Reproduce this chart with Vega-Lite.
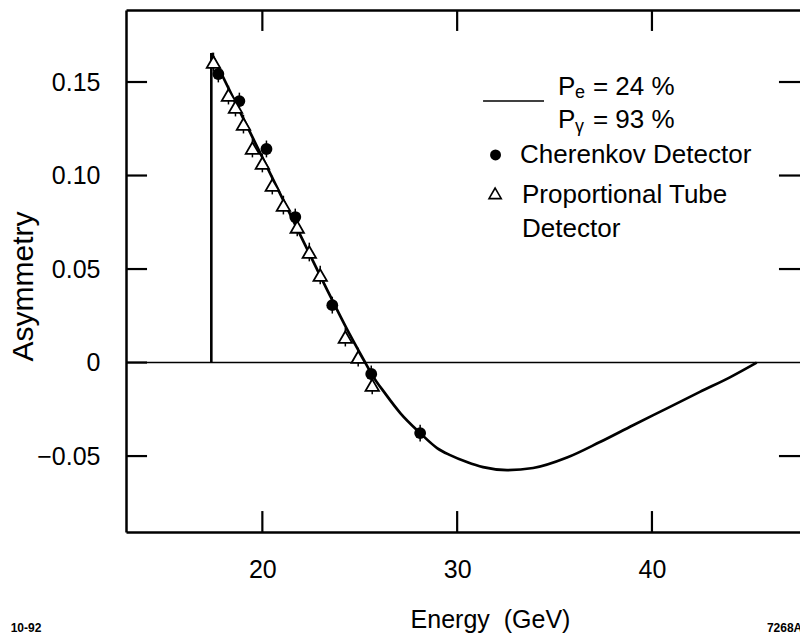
{
  "$schema": "https://vega.github.io/schema/vega-lite/v6.json",
  "width": 674,
  "height": 522,
  "autosize": {"type": "none"},
  "padding": {"left": 126, "top": 10, "right": 0, "bottom": 103},
  "background": "white",
  "config": {
    "view": {"stroke": null},
    "font": "Liberation Sans",
    "axis": {
      "grid": false,
      "ticks": false,
      "tickSize": 0,
      "domainColor": "black",
      "labelColor": "black",
      "titleColor": "black",
      "domainWidth": 2.5,
      "labelFont": "Liberation Sans",
      "titleFont": "Liberation Sans",
      "labelFontSize": 25,
      "titleFontSize": 25,
      "titleFontWeight": "normal"
    }
  },
  "datasets": {
    "zero": [{"A": 0}],
    "xtick": [
      {"E": 20, "lo": -0.0906, "hi": -0.0794},
      {"E": 30, "lo": -0.0906, "hi": -0.0794},
      {"E": 40, "lo": -0.0906, "hi": -0.0794},
      {"E": 20, "lo": 0.1773, "hi": 0.1885},
      {"E": 30, "lo": 0.1773, "hi": 0.1885},
      {"E": 40, "lo": 0.1773, "hi": 0.1885}
    ],
    "ytick": [
      {"A": -0.05, "l": 13, "r": 14.08},
      {"A": 0, "l": 13, "r": 14.08},
      {"A": 0.05, "l": 13, "r": 14.08},
      {"A": 0.1, "l": 13, "r": 14.08},
      {"A": 0.15, "l": 13, "r": 14.08},
      {"A": -0.05, "l": 46.52, "r": 47.6},
      {"A": 0.05, "l": 46.52, "r": 47.6},
      {"A": 0.1, "l": 46.52, "r": 47.6},
      {"A": 0.15, "l": 46.52, "r": 47.6}
    ],
    "edge": [{"E": 17.38, "A0": 0, "A1": 0.1655}],
    "curve": [
      {"E": 17.38, "A": 0.1655},
      {"E": 19.0, "A": 0.131},
      {"E": 20.6, "A": 0.0969},
      {"E": 22.2, "A": 0.0628},
      {"E": 23.5, "A": 0.0352},
      {"E": 24.5, "A": 0.0148},
      {"E": 25.28, "A": 0.0},
      {"E": 25.64, "A": -0.0067},
      {"E": 26.3, "A": -0.0165},
      {"E": 27.08, "A": -0.027},
      {"E": 28.1, "A": -0.0377},
      {"E": 28.97, "A": -0.0457},
      {"E": 29.64, "A": -0.0495},
      {"E": 30.5, "A": -0.0532},
      {"E": 31.33, "A": -0.0559},
      {"E": 32.56, "A": -0.0575},
      {"E": 33.9, "A": -0.0564},
      {"E": 35.64, "A": -0.0508},
      {"E": 37.33, "A": -0.0425},
      {"E": 39.03, "A": -0.0335},
      {"E": 40.77, "A": -0.0245},
      {"E": 42.46, "A": -0.0157},
      {"E": 44.0, "A": -0.0079},
      {"E": 45.38, "A": 0.0}
    ],
    "cherenkov": [
      {"E": 17.74, "A": 0.1543, "lo": 0.1498, "hi": 0.1588},
      {"E": 18.82, "A": 0.1398, "lo": 0.1353, "hi": 0.1443},
      {"E": 20.21, "A": 0.1142, "lo": 0.1097, "hi": 0.1187},
      {"E": 21.69, "A": 0.0778, "lo": 0.0733, "hi": 0.0823},
      {"E": 23.59, "A": 0.0307, "lo": 0.0262, "hi": 0.0352},
      {"E": 25.59, "A": -0.0061, "lo": -0.0106, "hi": -0.0016},
      {"E": 28.1, "A": -0.0377, "lo": -0.0422, "hi": -0.0332}
    ],
    "tube": [
      {"E": 17.49, "A": 0.1607, "lo": 0.1557, "hi": 0.1657},
      {"E": 18.26, "A": 0.143, "lo": 0.138, "hi": 0.148},
      {"E": 18.62, "A": 0.1366, "lo": 0.1316, "hi": 0.1416},
      {"E": 19.03, "A": 0.1275, "lo": 0.1225, "hi": 0.1325},
      {"E": 19.49, "A": 0.1147, "lo": 0.1097, "hi": 0.1197},
      {"E": 20.0, "A": 0.1067, "lo": 0.1017, "hi": 0.1117},
      {"E": 20.51, "A": 0.0949, "lo": 0.0899, "hi": 0.0999},
      {"E": 21.08, "A": 0.0842, "lo": 0.0792, "hi": 0.0892},
      {"E": 21.79, "A": 0.0725, "lo": 0.0675, "hi": 0.0775},
      {"E": 22.41, "A": 0.0591, "lo": 0.0541, "hi": 0.0641},
      {"E": 22.97, "A": 0.0468, "lo": 0.0418, "hi": 0.0518},
      {"E": 24.26, "A": 0.0136, "lo": 0.0086, "hi": 0.0186},
      {"E": 24.92, "A": 0.0029, "lo": -0.0021, "hi": 0.0079},
      {"E": 25.64, "A": -0.012, "lo": -0.017, "hi": -0.007}
    ],
    "legendLine": [{"E1": 31.33, "E2": 34.46, "A": 0.1398}],
    "legendDot": [{"E": 31.97, "A": 0.111}],
    "legendTri": [{"E": 31.95, "A": 0.0905}],
    "legendText": [
      {"E": 35.18, "A": 0.143, "t": "P"},
      {"E": 36.97, "A": 0.143, "t": "= 24 %"},
      {"E": 35.18, "A": 0.1254, "t": "P"},
      {"E": 36.97, "A": 0.1254, "t": "= 93 %"},
      {"E": 33.23, "A": 0.1067, "t": "Cherenkov Detector"},
      {"E": 33.33, "A": 0.0853, "t": "Proportional Tube"},
      {"E": 33.33, "A": 0.0671, "t": "Detector"}
    ],
    "subText": [
      {"E": 36.05, "A": 0.1414, "t": "e"},
      {"E": 36.05, "A": 0.1232, "t": "γ"}
    ],
    "ids": [
      {"E": 7.08, "A": -0.1441, "t": "10-92"},
      {"E": 45.9, "A": -0.1441, "t": "7268A1"}
    ]
  },
  "resolve": {"axis": {"x": "independent", "y": "independent"}},
  "layer": [
    {
      "data": {"name": "zero"},
      "mark": {"type": "rule", "color": "black", "strokeWidth": 1.4},
      "encoding": {
        "y": {"field": "A", "type": "quantitative", "scale": {"domain": [-0.0906, 0.1885], "nice": false, "zero": false}, "axis": null}
      }
    },
    {
      "data": {"name": "xtick"},
      "mark": {"type": "rule", "color": "black", "strokeWidth": 2.2},
      "encoding": {
        "x": {"field": "E", "type": "quantitative", "scale": {"domain": [13, 47.6], "nice": false, "zero": false}, "axis": null},
        "y": {"field": "lo", "type": "quantitative", "scale": {"domain": [-0.0906, 0.1885], "nice": false, "zero": false}, "axis": null},
        "y2": {"field": "hi"}
      }
    },
    {
      "data": {"name": "ytick"},
      "mark": {"type": "rule", "color": "black", "strokeWidth": 2.2},
      "encoding": {
        "x": {"field": "l", "type": "quantitative", "scale": {"domain": [13, 47.6], "nice": false, "zero": false}, "axis": null},
        "x2": {"field": "r"},
        "y": {"field": "A", "type": "quantitative", "scale": {"domain": [-0.0906, 0.1885], "nice": false, "zero": false}, "axis": null}
      }
    },
    {
      "data": {"name": "edge"},
      "mark": {"type": "rule", "color": "black", "strokeWidth": 2.6},
      "encoding": {
        "x": {"field": "E", "type": "quantitative", "scale": {"domain": [13, 47.6], "nice": false, "zero": false}, "axis": null},
        "y": {"field": "A0", "type": "quantitative", "scale": {"domain": [-0.0906, 0.1885], "nice": false, "zero": false}, "axis": null},
        "y2": {"field": "A1"}
      }
    },
    {
      "data": {"name": "curve"},
      "mark": {"type": "line", "color": "black", "strokeWidth": 2.7, "interpolate": "monotone"},
      "encoding": {
        "x": {
          "field": "E", "type": "quantitative",
          "scale": {"domain": [13, 47.6], "nice": false, "zero": false},
          "axis": {
            "orient": "bottom", "values": [20, 30, 40], "domain": true,
            "labelPadding": 45, "labelBaseline": "alphabetic",
            "title": "Energy\u00a0 (GeV)", "titleX": 364, "titleY": 95,
            "titleAlign": "center", "titleBaseline": "alphabetic"
          }
        },
        "y": {
          "field": "A", "type": "quantitative",
          "scale": {"domain": [-0.0906, 0.1885], "nice": false, "zero": false},
          "axis": {
            "orient": "left", "values": [-0.05, 0, 0.05, 0.1, 0.15], "domain": true,
            "labelPadding": 26, "labelBaseline": "middle",
            "labelExpr": "datum.value == 0 ? '0' : format(datum.value, '.2f')",
            "title": "Asymmetry", "titleFontSize": 30, "titleX": -103, "titleY": 276,
            "titleAlign": "center", "titleBaseline": "middle", "titleAngle": -90
          }
        }
      }
    },
    {
      "data": {"name": "cherenkov"},
      "mark": {"type": "rule", "color": "black", "strokeWidth": 1.5},
      "encoding": {
        "x": {
          "field": "E", "type": "quantitative",
          "scale": {"domain": [13, 47.6], "nice": false, "zero": false},
          "axis": {"orient": "top", "values": [20, 30, 40], "labels": false, "domain": true, "title": null}
        },
        "y": {"field": "lo", "type": "quantitative", "scale": {"domain": [-0.0906, 0.1885], "nice": false, "zero": false}, "axis": null},
        "y2": {"field": "hi"}
      }
    },
    {
      "data": {"name": "tube"},
      "mark": {"type": "rule", "color": "black", "strokeWidth": 1.5},
      "encoding": {
        "x": {"field": "E", "type": "quantitative", "scale": {"domain": [13, 47.6], "nice": false, "zero": false}, "axis": null},
        "y": {"field": "lo", "type": "quantitative", "scale": {"domain": [-0.0906, 0.1885], "nice": false, "zero": false}, "axis": null},
        "y2": {"field": "hi"}
      }
    },
    {
      "data": {"name": "cherenkov"},
      "mark": {"type": "point", "shape": "circle", "filled": true, "color": "black", "size": 140, "opacity": 1},
      "encoding": {
        "x": {"field": "E", "type": "quantitative", "scale": {"domain": [13, 47.6], "nice": false, "zero": false}, "axis": null},
        "y": {"field": "A", "type": "quantitative", "scale": {"domain": [-0.0906, 0.1885], "nice": false, "zero": false}, "axis": null}
      }
    },
    {
      "data": {"name": "tube"},
      "mark": {"type": "point", "shape": "triangle-up", "filled": true, "fill": "white", "stroke": "black", "strokeWidth": 1.8, "size": 180, "opacity": 1},
      "encoding": {
        "x": {"field": "E", "type": "quantitative", "scale": {"domain": [13, 47.6], "nice": false, "zero": false}, "axis": null},
        "y": {"field": "A", "type": "quantitative", "scale": {"domain": [-0.0906, 0.1885], "nice": false, "zero": false}, "axis": null}
      }
    },
    {
      "data": {"name": "legendLine"},
      "mark": {"type": "rule", "color": "black", "strokeWidth": 1.5},
      "encoding": {
        "x": {"field": "E1", "type": "quantitative", "scale": {"domain": [13, 47.6], "nice": false, "zero": false}, "axis": null},
        "x2": {"field": "E2"},
        "y": {"field": "A", "type": "quantitative", "scale": {"domain": [-0.0906, 0.1885], "nice": false, "zero": false}, "axis": null}
      }
    },
    {
      "data": {"name": "legendDot"},
      "mark": {"type": "point", "shape": "circle", "filled": true, "color": "black", "size": 120, "opacity": 1},
      "encoding": {
        "x": {"field": "E", "type": "quantitative", "scale": {"domain": [13, 47.6], "nice": false, "zero": false}, "axis": null},
        "y": {"field": "A", "type": "quantitative", "scale": {"domain": [-0.0906, 0.1885], "nice": false, "zero": false}, "axis": null}
      }
    },
    {
      "data": {"name": "legendTri"},
      "mark": {"type": "point", "shape": "triangle-up", "filled": true, "fill": "white", "stroke": "black", "strokeWidth": 1.6, "size": 150, "opacity": 1},
      "encoding": {
        "x": {"field": "E", "type": "quantitative", "scale": {"domain": [13, 47.6], "nice": false, "zero": false}, "axis": null},
        "y": {"field": "A", "type": "quantitative", "scale": {"domain": [-0.0906, 0.1885], "nice": false, "zero": false}, "axis": null}
      }
    },
    {
      "data": {"name": "legendText"},
      "mark": {"type": "text", "align": "left", "baseline": "alphabetic", "fontSize": 26, "color": "black", "font": "Liberation Sans"},
      "encoding": {
        "x": {"field": "E", "type": "quantitative", "scale": {"domain": [13, 47.6], "nice": false, "zero": false}, "axis": null},
        "y": {"field": "A", "type": "quantitative", "scale": {"domain": [-0.0906, 0.1885], "nice": false, "zero": false}, "axis": null},
        "text": {"field": "t"}
      }
    },
    {
      "data": {"name": "subText"},
      "mark": {"type": "text", "align": "left", "baseline": "alphabetic", "fontSize": 18, "color": "black", "font": "Liberation Sans"},
      "encoding": {
        "x": {"field": "E", "type": "quantitative", "scale": {"domain": [13, 47.6], "nice": false, "zero": false}, "axis": null},
        "y": {"field": "A", "type": "quantitative", "scale": {"domain": [-0.0906, 0.1885], "nice": false, "zero": false}, "axis": null},
        "text": {"field": "t"}
      }
    },
    {
      "data": {"name": "ids"},
      "mark": {"type": "text", "align": "left", "baseline": "alphabetic", "fontSize": 12, "fontWeight": "bold", "color": "black", "font": "Liberation Sans"},
      "encoding": {
        "x": {"field": "E", "type": "quantitative", "scale": {"domain": [13, 47.6], "nice": false, "zero": false}, "axis": null},
        "y": {"field": "A", "type": "quantitative", "scale": {"domain": [-0.0906, 0.1885], "nice": false, "zero": false}, "axis": null},
        "text": {"field": "t"}
      }
    }
  ]
}
